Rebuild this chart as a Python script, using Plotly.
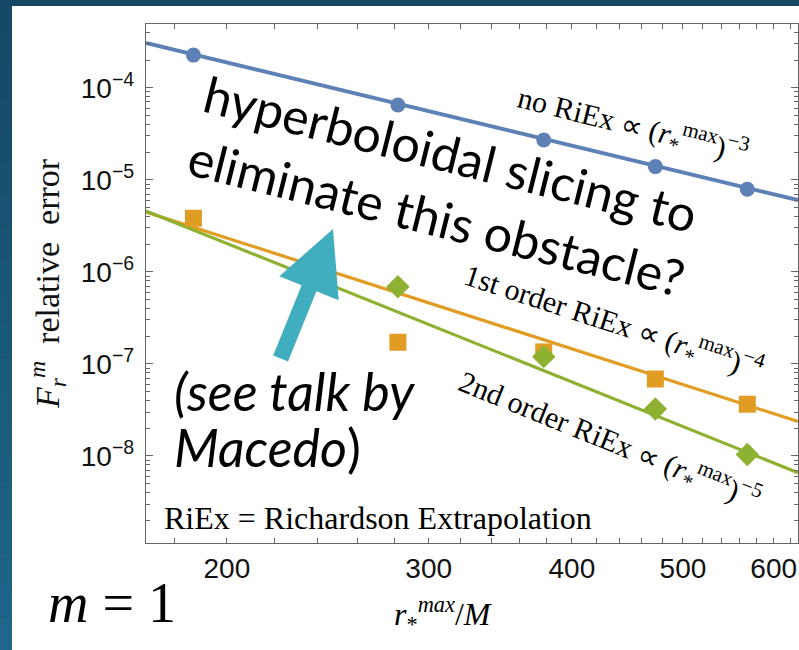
import plotly.graph_objects as go
import math

# ---------------- data ----------------
r_max = [187, 282, 378, 473, 569]
err_no_riex = [2.26e-4, 6.48e-5, 2.70e-5, 1.39e-5, 7.89e-6]
err_riex1 = [3.82e-6, 1.72e-7, 1.35e-7, 6.86e-8, 3.65e-8]
err_riex2 = [None, 6.90e-7, 1.20e-7, 3.24e-8, 1.04e-8]

fit_r = [170, 630]
fit_no_riex = [3.06e-4, 6.01e-6]
fit_riex1 = [4.47e-6, 2.37e-8]
fit_riex2 = [4.59e-6, 6.57e-9]

x_tick_vals = [200, 300, 400, 500, 600]
x_tick_text = ["200", "300", "400", "500", "600"]
y_tick_vals = [1e-8, 1e-7, 1e-6, 1e-5, 1e-4]
y_tick_text = ["10<sup>\u22128</sup>", "10<sup>\u22127</sup>", "10<sup>\u22126</sup>",
               "10<sup>\u22125</sup>", "10<sup>\u22124</sup>"]

BLUE = "#5E81B5"
ORANGE = "#E19C24"
GREEN = "#8FB131"
TEAL = "#40AEBF"
FRAME = "#666666"

# ---------------- layout geometry (pixels) ----------------
WIDTH, HEIGHT = 799, 650
L, R, T, B = 146, 798, 24, 543
PW, PH = R - L, B - T


def px(x):
    return (x - L) / PW


def py(y):
    return (B - y) / PH


fig = go.Figure()

# fit lines
fig.add_trace(go.Scatter(x=fit_r, y=fit_no_riex, mode="lines",
                         line=dict(color=BLUE, width=4), showlegend=False))
fig.add_trace(go.Scatter(x=fit_r, y=fit_riex1, mode="lines",
                         line=dict(color=ORANGE, width=3.2), showlegend=False))
fig.add_trace(go.Scatter(x=fit_r, y=fit_riex2, mode="lines",
                         line=dict(color=GREEN, width=3.2), showlegend=False))

# data points
fig.add_trace(go.Scatter(x=r_max, y=err_no_riex, mode="markers",
                         marker=dict(symbol="circle", size=15, color=BLUE),
                         showlegend=False))
fig.add_trace(go.Scatter(x=r_max, y=err_riex1, mode="markers",
                         marker=dict(symbol="square", size=17, color=ORANGE),
                         showlegend=False))
fig.add_trace(go.Scatter(x=r_max, y=err_riex2, mode="markers",
                         marker=dict(symbol="diamond", size=18, color=GREEN),
                         showlegend=False))

# minor tick positions
x_minor = [v for v in range(180, 640, 20) if v not in x_tick_vals]
y_minor = [m * 10.0 ** e for e in range(-9, -3) for m in range(2, 10)]

tickfont = dict(family="Liberation Sans", size=28, color="#111111")

fig.update_xaxes(
    type="log",
    range=[math.log10(170), math.log10(630)],
    tickvals=x_tick_vals, ticktext=x_tick_text,
    ticks="inside", ticklen=5, tickwidth=1.2, tickcolor=FRAME,
    minor=dict(tickvals=x_minor, ticks="inside", ticklen=5, tickwidth=1.2,
               tickcolor=FRAME, showgrid=False),
    showline=True, linecolor=FRAME, linewidth=1.3, mirror="allticks",
    showgrid=False, zeroline=False,
    tickfont=tickfont, ticklabelstandoff=0,
)
fig.update_yaxes(
    type="log",
    range=[-8.945, -3.308],
    tickvals=y_tick_vals, ticktext=y_tick_text,
    ticks="inside", ticklen=7, tickwidth=1.2, tickcolor=FRAME,
    minor=dict(tickvals=y_minor, ticks="inside", ticklen=4, tickwidth=1.2,
               tickcolor=FRAME, showgrid=False),
    showline=True, linecolor=FRAME, linewidth=1.3, mirror="allticks",
    showgrid=False, zeroline=False,
    tickfont=tickfont, ticklabelstandoff=5,
    title=dict(text="<i>F</i><sub><i>r</i></sub><sup><i>m</i></sup>\u00a0\u00a0relative\u00a0\u00a0error",
               font=dict(family="Liberation Serif", size=34, color="#111111"),
               standoff=10),
)

# background: dark slide border + white panel
shapes = []
top_col = (0x15, 0x48, 0x65)
bot_col = (0x1F, 0x66, 0x8A)
n_bands = 20
for i in range(n_bands):
    t = i / (n_bands - 1)
    c = tuple(int(round(top_col[k] + (bot_col[k] - top_col[k]) * t)) for k in range(3))
    y0 = i * HEIGHT / n_bands
    y1 = (i + 1) * HEIGHT / n_bands
    shapes.append(dict(type="rect", xref="paper", yref="paper", layer="below",
                       x0=px(0), x1=px(12), y0=py(y1), y1=py(y0),
                       line=dict(width=0), fillcolor="rgb(%d,%d,%d)" % c))
shapes.append(dict(type="rect", xref="paper", yref="paper", layer="below",
                   x0=px(0), x1=px(WIDTH), y0=py(6), y1=py(0),
                   line=dict(width=0), fillcolor="rgb(21,72,101)"))
shapes.append(dict(type="rect", xref="paper", yref="paper", layer="below",
                   x0=px(12), x1=px(WIDTH + 2), y0=py(HEIGHT + 2), y1=py(6),
                   line=dict(width=0), fillcolor="white"))

serif = "Liberation Serif"


def ann(x, y, text, size, family, angle=0, xanchor="center", yanchor="middle", align="center"):
    return dict(x=px(x), y=py(y), xref="paper", yref="paper", showarrow=False,
                xanchor=xanchor, yanchor=yanchor, align=align, text=text,
                textangle=angle, font=dict(family=family, size=size, color="black"))


annotations = [
    ann(444, 185, "hyperboloidal slicing to<br>eliminate this obstacle?", 50, "Lato",
        angle=14, align="left"),
    ann(172, 391, "<i>(see talk by</i>", 52, "Lato", xanchor="left"),
    ann(172, 447, "<i>Macedo</i>)", 52, "Lato", xanchor="left"),
    dict(x=px(333), y=py(229), xref="paper", yref="paper", showarrow=True,
         ax=-53, ay=131, text="", arrowhead=2, arrowsize=0.8, arrowwidth=16,
         arrowcolor=TEAL, standoff=0),
    ann(633, 125, "no RiEx \u221d (<i>r</i><sub>*</sub><sup>max</sup>)<sup>\u22123</sup>",
        30, serif, angle=14),
    ann(614, 322, "1st order RiEx \u221d (<i>r</i><sub>*</sub><sup>max</sup>)<sup>\u22124</sup>",
        30, serif, angle=18),
    ann(610, 440, "2nd order RiEx \u221d (<i>r</i><sub>*</sub><sup>max</sup>)<sup>\u22125</sup>",
        30, serif, angle=22),
    ann(162, 518, "RiEx = Richardson Extrapolation", 32, serif, xanchor="left"),
    ann(443, 614, "<i>r</i><sub>*</sub><sup><i>max</i></sup>/<i>M</i>", 32, serif),
    ann(112, 603, "<i>m</i> = 1", 56, serif),
]

fig.update_layout(
    width=WIDTH, height=HEIGHT,
    margin=dict(l=L, r=WIDTH - R, t=T, b=HEIGHT - B, autoexpand=False),
    paper_bgcolor="rgb(21,72,101)",
    plot_bgcolor="white",
    shapes=shapes,
    annotations=annotations,
    showlegend=False,
)

fig.write_html("out.html")
